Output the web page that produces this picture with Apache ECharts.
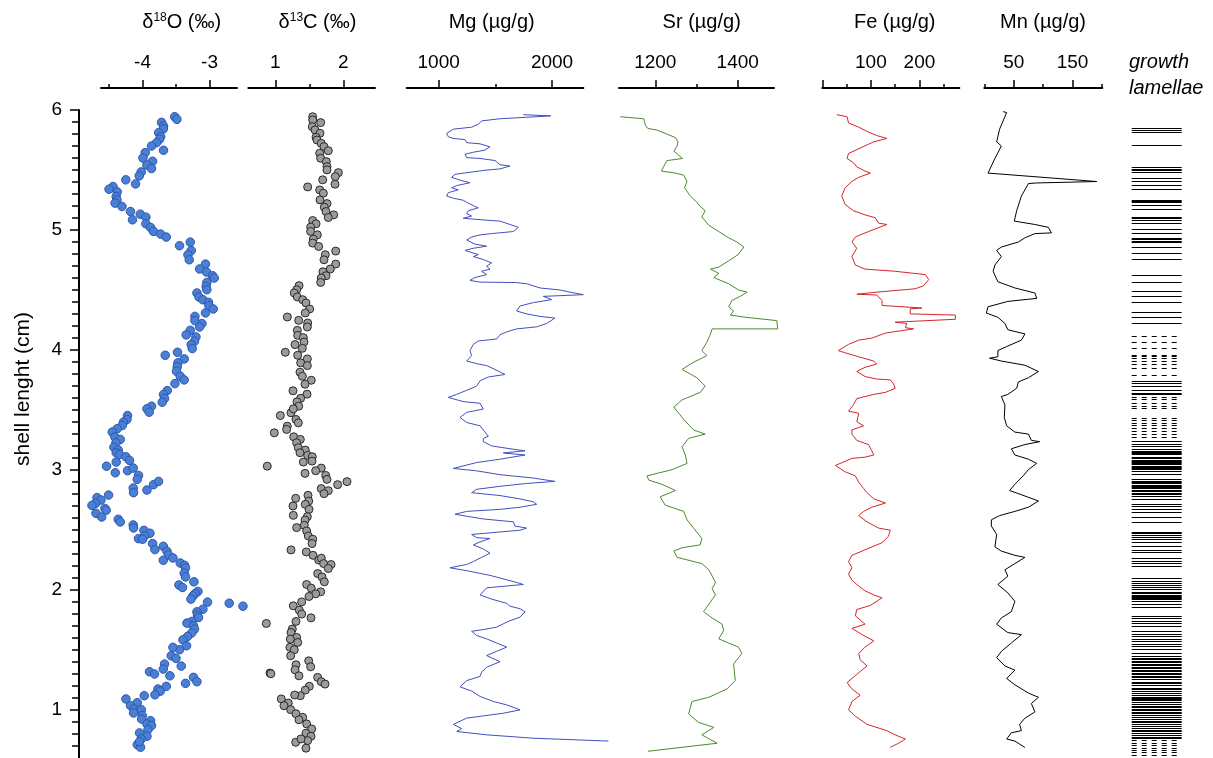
<!DOCTYPE html>
<html>
<head>
<meta charset="utf-8">
<script src="https://cdn.jsdelivr.net/npm/echarts@6/dist/echarts.min.js"></script>
<style>html,body{margin:0;padding:0;background:#fff}#c{width:1213px;height:758px}</style>
</head>
<body>
<div id="c"></div>
<script>
// ---- data: [value, shell length (cm)] ----
const d18O = [[-3.52,5.944],[-3.487,5.922],[-3.716,5.897],[-3.687,5.867],[-3.69,5.842],[-3.76,5.811],[-3.73,5.778],[-3.746,5.756],[-3.79,5.728],[-3.866,5.70],[-3.687,5.665],[-3.96,5.645],[-3.994,5.60],[-3.85,5.573],[-3.934,5.542],[-3.866,5.512],[-4.02,5.484],[-4.05,5.451],[-4.25,5.418],[-4.104,5.384],[-4.44,5.362],[-4.50,5.34],[-4.378,5.318],[-4.393,5.279],[-4.382,5.251],[-4.41,5.224],[-4.307,5.196],[-4.18,5.154],[-4.15,5.085],[-4.034,5.132],[-3.95,5.107],[-3.95,5.052],[-3.88,5.021],[-3.836,4.988],[-3.73,4.966],[-3.646,4.941],[-3.448,4.869],[-3.288,4.899],[-3.273,4.829],[-3.322,4.794],[-3.303,4.752],[-3.06,4.716],[-3.149,4.675],[-3.045,4.65],[-2.955,4.619],[-2.93,4.60],[-3.04,4.563],[-3.05,4.53],[-3.04,4.502],[-3.188,4.475],[-3.158,4.442],[-3.099,4.419],[-3.015,4.397],[-3.009,4.369],[-2.945,4.342],[-3.06,4.309],[-3.218,4.28],[-3.218,4.245],[-3.113,4.22],[-3.149,4.192],[-3.288,4.164],[-3.348,4.126],[-3.203,4.109],[-3.224,4.073],[-3.273,4.045],[-3.258,4.012],[-3.661,3.956],[-3.478,3.981],[-3.378,3.926],[-3.472,3.893],[-3.482,3.86],[-3.493,3.823],[-3.437,3.781],[-3.378,3.751],[-3.516,3.72],[-3.631,3.662],[-3.687,3.629],[-3.672,3.596],[-3.706,3.565],[-3.866,3.532],[-3.934,3.51],[-3.9,3.482],[-4.224,3.454],[-4.233,3.421],[-4.284,3.399],[-4.303,3.371],[-4.378,3.344],[-4.452,3.316],[-4.412,3.274],[-4.333,3.255],[-4.397,3.227],[-4.427,3.19],[-4.363,3.166],[-4.393,3.144],[-4.343,3.13],[-4.248,3.11],[-4.194,3.08],[-4.393,3.066],[-4.537,3.032],[-4.407,2.977],[-4.224,2.994],[-4.139,3.016],[-4.06,2.955],[-4.079,2.922],[-4.139,2.85],[-4.134,2.811],[-3.934,2.833],[-3.836,2.878],[-3.761,2.905],[-4.507,2.791],[-4.68,2.77],[-4.621,2.75],[-4.70,2.722],[-4.755,2.705],[-4.561,2.68],[-4.542,2.664],[-4.695,2.639],[-4.61,2.608],[-4.363,2.589],[-4.333,2.567],[-4.139,2.542],[-4.134,2.517],[-3.979,2.497],[-3.89,2.473],[-3.97,2.45],[-4.06,2.428],[-4.0,2.423],[-3.85,2.387],[-3.815,2.337],[-3.69,2.364],[-3.636,2.323],[-3.612,2.292],[-3.546,2.267],[-3.69,2.248],[-3.437,2.225],[-3.373,2.206],[-3.358,2.184],[-3.378,2.14],[-3.358,2.109],[-3.457,2.042],[-3.403,2.021],[-3.233,2.068],[-3.173,1.988],[-3.213,1.971],[-3.248,1.951],[-3.278,1.924],[-3.03,1.899],[-2.706,1.89],[-2.501,1.865],[-3.099,1.84],[-3.188,1.818],[-3.179,1.79],[-3.164,1.771],[-3.263,1.738],[-3.337,1.724],[-3.239,1.701],[-3.224,1.674],[-3.269,1.641],[-3.328,1.613],[-3.397,1.585],[-3.343,1.535],[-3.448,1.502],[-3.546,1.522],[-3.572,1.452],[-3.501,1.43],[-3.672,1.383],[-3.69,1.341],[-3.422,1.366],[-3.896,1.319],[-3.821,1.3],[-3.591,1.285],[-3.239,1.272],[-3.188,1.236],[-3.358,1.222],[-3.646,1.197],[-3.77,1.175],[-3.736,1.156],[-3.815,1.127],[-3.975,1.119],[-4.248,1.092],[-4.079,1.061],[-4.179,1.036],[-4.128,1.008],[-4.019,1.003],[-4.134,0.975],[-4.004,0.953],[-4.015,0.925],[-3.88,0.911],[-3.934,0.884],[-3.866,0.87],[-3.919,0.836],[-4.045,0.809],[-3.934,0.781],[-4.019,0.759],[-4.079,0.711],[-4.03,0.69],[-4.045,0.736]];

const d13C = [[1.55,5.944],[1.55,5.917],[1.667,5.895],[1.544,5.861],[1.584,5.834],[1.657,5.806],[1.599,5.773],[1.613,5.75],[1.676,5.722],[1.716,5.695],[1.779,5.661],[1.653,5.64],[1.667,5.598],[1.75,5.57],[1.76,5.528],[1.76,5.501],[1.927,5.478],[1.882,5.445],[1.697,5.418],[1.878,5.382],[1.476,5.359],[1.653,5.334],[1.706,5.307],[1.657,5.251],[1.76,5.22],[1.721,5.19],[1.746,5.154],[1.859,5.126],[1.779,5.104],[1.55,5.079],[1.599,5.052],[1.52,5.024],[1.52,4.988],[1.618,4.96],[1.559,4.924],[1.55,4.891],[1.638,4.863],[1.888,4.824],[1.735,4.794],[1.716,4.752],[1.888,4.716],[1.809,4.675],[1.701,4.652],[1.746,4.619],[1.676,4.60],[1.667,4.563],[1.349,4.536],[1.314,4.502],[1.279,4.475],[1.324,4.442],[1.403,4.419],[1.451,4.392],[1.505,4.342],[1.441,4.309],[1.177,4.275],[1.344,4.247],[1.476,4.225],[1.471,4.192],[1.324,4.164],[1.329,4.122],[1.412,4.103],[1.422,4.067],[1.29,4.045],[1.397,4.014],[1.147,3.981],[1.329,3.956],[1.471,3.926],[1.373,3.893],[1.471,3.87],[1.363,3.815],[1.397,3.781],[1.529,3.748],[1.437,3.715],[1.26,3.66],[1.466,3.632],[1.373,3.598],[1.319,3.568],[1.344,3.532],[1.231,3.477],[1.074,3.454],[1.265,3.51],[1.304,3.421],[1.338,3.393],[1.176,3.365],[1.167,3.338],[0.985,3.31],[1.27,3.277],[1.368,3.255],[1.314,3.227],[1.338,3.186],[1.441,3.166],[1.363,3.144],[1.476,3.122],[1.544,3.11],[1.54,3.074],[1.412,3.066],[0.882,3.032],[1.676,3.016],[1.594,2.994],[1.437,2.972],[1.741,2.955],[1.76,2.922],[1.917,2.878],[2.054,2.903],[1.676,2.845],[1.779,2.828],[1.716,2.803],[1.481,2.789],[1.3,2.764],[1.491,2.741],[1.26,2.7],[1.441,2.714],[1.496,2.672],[1.265,2.622],[1.471,2.611],[1.437,2.583],[1.314,2.52],[1.426,2.539],[1.461,2.492],[1.485,2.45],[1.55,2.423],[1.54,2.387],[1.231,2.334],[1.456,2.317],[1.554,2.289],[1.638,2.25],[1.676,2.265],[1.711,2.22],[1.819,2.212],[1.779,2.179],[1.623,2.137],[1.687,2.109],[1.721,2.068],[1.461,2.046],[1.529,2.015],[1.667,1.985],[1.594,1.968],[1.496,1.946],[1.388,1.901],[1.265,1.868],[1.353,1.832],[1.525,1.768],[1.388,1.799],[0.868,1.721],[1.304,1.738],[1.25,1.674],[1.231,1.646],[1.314,1.605],[1.221,1.591],[1.329,1.563],[1.216,1.522],[1.279,1.502],[1.226,1.452],[1.491,1.41],[1.304,1.377],[1.52,1.36],[1.29,1.335],[1.348,1.285],[0.922,1.308],[0.935,1.302],[1.623,1.272],[1.676,1.236],[1.731,1.216],[1.5,1.197],[1.441,1.166],[1.368,1.119],[1.285,1.125],[1.088,1.092],[1.191,1.058],[1.128,1.036],[1.226,1.003],[1.304,0.969],[1.403,0.939],[1.348,0.919],[1.461,0.884],[1.535,0.842],[1.451,0.806],[1.525,0.781],[1.476,0.745],[1.3,0.731],[1.378,0.759],[1.451,0.682]];

const mg = [[1747,5.961],[1988,5.951],[1541,5.927],[1379,5.909],[1350,5.881],[1291,5.857],[1129,5.84],[1070,5.805],[1085,5.777],[1129,5.763],[1232,5.753],[1247,5.728],[1365,5.718],[1453,5.693],[1409,5.666],[1306,5.648],[1232,5.631],[1247,5.603],[1365,5.596],[1497,5.579],[1541,5.544],[1629,5.533],[1541,5.509],[1409,5.498],[1306,5.485],[1144,5.464],[1114,5.439],[1188,5.415],[1276,5.394],[1159,5.37],[1114,5.352],[1173,5.335],[1085,5.311],[1070,5.283],[1129,5.265],[1217,5.248],[1247,5.231],[1320,5.196],[1350,5.185],[1262,5.161],[1247,5.137],[1291,5.116],[1217,5.098],[1394,5.084],[1541,5.074],[1629,5.046],[1703,5.022],[1659,4.987],[1467,4.97],[1365,4.959],[1291,4.942],[1247,4.917],[1320,4.882],[1423,4.865],[1306,4.848],[1232,4.83],[1350,4.795],[1306,4.778],[1394,4.754],[1467,4.726],[1423,4.698],[1453,4.674],[1379,4.656],[1423,4.628],[1320,4.604],[1276,4.58],[1365,4.566],[1688,4.562],[1776,4.552],[1894,4.517],[2071,4.5],[2159,4.482],[2276,4.461],[1923,4.447],[1997,4.42],[1835,4.395],[1718,4.367],[1688,4.325],[1776,4.301],[1894,4.28],[2026,4.266],[1953,4.221],[1865,4.193],[1688,4.176],[1600,4.151],[1541,4.127],[1512,4.092],[1350,4.075],[1306,4.047],[1276,3.995],[1291,3.953],[1247,3.908],[1350,3.883],[1423,3.87],[1497,3.838],[1585,3.796],[1438,3.775],[1365,3.744],[1335,3.699],[1247,3.664],[1159,3.63],[1085,3.605],[1217,3.57],[1365,3.556],[1394,3.508],[1247,3.48],[1188,3.438],[1247,3.396],[1365,3.368],[1409,3.316],[1438,3.281],[1394,3.264],[1394,3.236],[1467,3.201],[1629,3.177],[1762,3.16],[1570,3.142],[1762,3.125],[1541,3.09],[1335,3.062],[1129,3.013],[1335,2.993],[1541,2.961],[1835,2.933],[2026,2.905],[1776,2.888],[1541,2.864],[1335,2.839],[1291,2.811],[1541,2.787],[1718,2.759],[1835,2.735],[1865,2.714],[1718,2.69],[1541,2.672],[1247,2.655],[1144,2.631],[1394,2.592],[1659,2.568],[1673,2.533],[1776,2.516],[1718,2.498],[1512,2.481],[1291,2.463],[1335,2.436],[1453,2.429],[1365,2.401],[1306,2.376],[1394,2.342],[1453,2.307],[1379,2.272],[1306,2.237],[1247,2.213],[1100,2.185],[1247,2.161],[1453,2.122],[1688,2.063],[1747,2.046],[1423,2.018],[1365,1.959],[1467,1.924],[1600,1.889],[1629,1.865],[1718,1.844],[1762,1.819],[1718,1.774],[1615,1.739],[1512,1.691],[1394,1.67],[1291,1.656],[1335,1.621],[1423,1.593],[1512,1.558],[1600,1.524],[1512,1.489],[1423,1.454],[1541,1.402],[1423,1.357],[1379,1.315],[1365,1.28],[1247,1.245],[1188,1.193],[1291,1.158],[1365,1.113],[1482,1.071],[1600,1.043],[1718,1.001],[1570,0.973],[1379,0.949],[1247,0.932],[1129,0.88],[1203,0.845],[1159,0.821],[1423,0.793],[1835,0.765],[2497,0.741]];

const sr = [[1115,5.944],[1172,5.927],[1176,5.874],[1182,5.846],[1204,5.833],[1224,5.805],[1249,5.77],[1255,5.735],[1253,5.7],[1245,5.658],[1266,5.596],[1228,5.578],[1220,5.526],[1215,5.491],[1249,5.474],[1269,5.457],[1277,5.405],[1271,5.352],[1285,5.283],[1301,5.231],[1309,5.196],[1321,5.161],[1313,5.109],[1330,5.039],[1354,4.987],[1378,4.935],[1398,4.9],[1415,4.858],[1401,4.795],[1378,4.743],[1354,4.691],[1334,4.674],[1354,4.639],[1342,4.604],[1378,4.552],[1402,4.5],[1423,4.482],[1406,4.447],[1386,4.413],[1378,4.36],[1390,4.325],[1382,4.291],[1418,4.273],[1495,4.245],[1497,4.176],[1338,4.176],[1334,4.134],[1325,4.064],[1313,3.995],[1325,3.953],[1289,3.891],[1265,3.838],[1301,3.769],[1321,3.699],[1309,3.647],[1265,3.584],[1245,3.525],[1269,3.421],[1293,3.334],[1321,3.299],[1281,3.264],[1265,3.194],[1273,3.125],[1277,3.055],[1241,3.003],[1180,2.951],[1184,2.916],[1216,2.881],[1249,2.829],[1212,2.777],[1224,2.707],[1269,2.655],[1277,2.585],[1313,2.429],[1309,2.376],[1265,2.352],[1245,2.324],[1253,2.272],[1313,2.22],[1330,2.168],[1346,2.063],[1338,2.011],[1346,1.959],[1317,1.82],[1338,1.767],[1362,1.715],[1366,1.663],[1354,1.593],[1378,1.558],[1402,1.524],[1410,1.471],[1390,1.384],[1394,1.245],[1374,1.176],[1330,1.106],[1289,1.071],[1281,0.967],[1305,0.897],[1342,0.855],[1313,0.793],[1350,0.723],[1182,0.656]];

const fe = [[30,5.961],[51,5.944],[54,5.892],[75,5.857],[92,5.822],[112,5.787],[133,5.763],[106,5.735],[78,5.683],[54,5.638],[51,5.596],[64,5.561],[71,5.526],[88,5.491],[99,5.474],[75,5.439],[61,5.405],[47,5.352],[40,5.283],[47,5.213],[64,5.161],[88,5.126],[109,5.102],[116,5.057],[133,5.046],[95,4.987],[68,4.942],[61,4.9],[71,4.848],[61,4.778],[68,4.708],[88,4.674],[150,4.656],[212,4.628],[219,4.587],[208,4.534],[191,4.51],[112,4.482],[71,4.465],[112,4.458],[123,4.412],[123,4.371],[205,4.35],[181,4.343],[181,4.301],[274,4.291],[274,4.256],[150,4.232],[174,4.221],[171,4.186],[188,4.176],[130,4.141],[102,4.099],[75,4.082],[54,4.047],[33,3.995],[47,3.977],[75,3.943],[106,3.908],[112,3.883],[88,3.856],[71,3.821],[88,3.779],[112,3.758],[140,3.751],[147,3.716],[150,3.681],[130,3.647],[106,3.63],[71,3.595],[64,3.543],[54,3.49],[75,3.473],[71,3.403],[85,3.368],[61,3.334],[61,3.299],[71,3.247],[95,3.212],[102,3.16],[106,3.125],[88,3.107],[61,3.097],[27,3.038],[47,2.985],[68,2.951],[75,2.898],[85,2.846],[92,2.811],[106,2.759],[130,2.725],[102,2.69],[85,2.655],[75,2.62],[92,2.568],[116,2.516],[140,2.498],[136,2.446],[123,2.394],[92,2.342],[61,2.289],[54,2.237],[61,2.185],[54,2.133],[61,2.081],[71,2.046],[88,1.993],[106,1.959],[123,1.934],[99,1.872],[71,1.837],[68,1.785],[78,1.75],[88,1.715],[61,1.68],[82,1.628],[106,1.576],[88,1.524],[75,1.471],[78,1.419],[92,1.367],[71,1.297],[51,1.228],[61,1.176],[78,1.123],[61,1.071],[54,1.001],[68,0.949],[92,0.88],[133,0.828],[150,0.793],[171,0.758],[157,0.723],[140,0.689]];

const mn = [[32,5.986],[38,5.979],[26,5.84],[21,5.735],[29,5.7],[18,5.596],[6.3,5.474],[52,5.457],[191,5.404],[89,5.392],[75,5.387],[63,5.283],[55,5.161],[51,5.074],[86,5.046],[109,5.022],[114,4.976],[86,4.97],[69,4.935],[58,4.9],[29,4.858],[21,4.83],[29,4.778],[18,4.708],[15,4.656],[23,4.569],[52,4.517],[86,4.475],[89,4.43],[40,4.405],[6.3,4.36],[3.4,4.308],[23,4.273],[35,4.221],[40,4.169],[69,4.134],[63,4.082],[38,4.029],[23,3.995],[23,3.943],[9,3.932],[29,3.908],[69,3.873],[92,3.821],[75,3.769],[58,3.734],[55,3.681],[40,3.63],[29,3.612],[35,3.542],[34,3.438],[38,3.368],[52,3.316],[75,3.299],[80,3.247],[94,3.236],[69,3.212],[46,3.177],[52,3.125],[75,3.09],[89,3.055],[75,3.003],[66,2.951],[52,2.881],[43,2.829],[63,2.794],[92,2.742],[75,2.69],[52,2.655],[26,2.62],[12,2.585],[12,2.533],[21,2.463],[18,2.359],[29,2.324],[52,2.289],[69,2.272],[52,2.22],[35,2.168],[40,2.115],[23,2.046],[40,1.976],[52,1.906],[46,1.82],[29,1.767],[21,1.715],[40,1.645],[63,1.628],[46,1.558],[29,1.489],[21,1.436],[35,1.367],[52,1.332],[38,1.263],[52,1.21],[75,1.141],[92,1.106],[80,1.054],[86,0.984],[69,0.932],[60,0.88],[63,0.828],[46,0.81],[38,0.758],[52,0.741],[69,0.688]];

const lamellaeSolid = [5.848,5.834,5.815,5.71,5.52,5.51,5.50,5.478,5.43,5.41,5.37,5.34,5.25,5.24,5.23,5.207,5.176,5.11,5.10,5.08,5.06,5.007,4.97,4.93,4.92,4.91,4.90,4.857,4.81,4.76,4.62,4.567,4.49,4.447,4.40,4.317,4.275,4.22,3.74,3.72,3.70,3.665,3.643,3.63,3.24,3.213,3.194,3.177,3.157,3.15,3.14,3.13,3.11,3.094,3.085,3.075,3.065,3.055,3.045,3.035,3.025,3.015,3.005,2.99,2.963,2.92,2.91,2.90,2.89,2.875,2.865,2.855,2.845,2.835,2.82,2.81,2.795,2.78,2.755,2.714,2.695,2.672,2.645,2.603,2.567,2.48,2.47,2.455,2.44,2.425,2.395,2.367,2.334,2.312,2.262,2.242,2.223,2.196,2.096,2.077,2.058,2.04,2.02,2.007,1.985,1.974,1.958,1.95,1.94,1.933,1.925,1.903,1.884,1.856,1.785,1.763,1.743,1.724,1.702,1.655,1.633,1.614,1.592,1.572,1.55,1.53,1.508,1.474,1.445,1.435,1.42,1.41,1.40,1.385,1.37,1.36,1.35,1.335,1.32,1.31,1.30,1.285,1.27,1.258,1.23,1.222,1.21,1.18,1.17,1.155,1.14,1.125,1.11,1.10,1.09,1.08,1.065,1.05,1.035,1.02,1.005,0.995,0.985,0.97,0.955,0.94,0.925,0.91,0.895,0.88,0.865,0.85,0.835,0.82,0.81,0.79,0.775,0.764];
const lamellaeDashed = [4.114,4.067,4.017,3.96,3.95,3.93,3.906,3.885,3.85,3.787,3.607,3.593,3.554,3.53,3.515,3.435,3.415,3.393,3.37,3.35,3.32,3.30,3.27,0.745,0.725,0.705,0.685,0.665,0.645,0.625];

// axis tick values
const ticksO = {major:[-4,-3], minor:[-4.5,-3.5], labels:[-4,-3]};
const ticksC = {major:[1,2], minor:[1.5], labels:[1,2]};
const ticksMg = {major:[1000,2000], minor:[1500], labels:[1000,2000]};
const ticksSr = {major:[1200,1400], minor:[1300], labels:[1200,1400]};
const ticksFe = {major:[0,100,200], minor:[50,150,250], labels:[100,200]};
const ticksMn = {major:[50,150], minor:[0,100,200], labels:[50,150]};
const lengthLabels = [1, 2, 3, 4, 5, 6];
const lengthMinor = [];
for (let k = 7; k < 60; k++) if (k % 10 !== 0) lengthMinor.push(k / 10);

// ---- layout ----
const FONT = '"Liberation Sans", Arial, Helvetica, sans-serif';
const TOP = 110, YMIN = 0.6, YMAX = 6, H = (YMAX - YMIN) * 120;
const PAD = 40; // extra px of room for marks drawn beyond the axis ends
const panels = [
  {left:101, right:237, min:-4.62, max:-2.59, t:ticksO},
  {left:248.3, right:375, min:0.603, max:2.466, t:ticksC},
  {left:406.7, right:583.3, min:718, max:2276, t:ticksMg},
  {left:619, right:774, min:1112, max:1488, t:ticksSr},
  {left:822.3, right:959.3, min:0, max:282, t:ticksFe},
  {left:984.3, right:1102.3, min:0, max:200.5, t:ticksMn}
];

const grid = [], xAxis = [], yAxis = [];
const hiddenY = gi => ({gridIndex:gi, type:'value', min:YMIN, max:YMAX, show:false, splitLine:{show:false}});
panels.forEach((p, i) => {
  const g = 3 * i, w = p.right - p.left, upp = (p.max - p.min) / w;
  grid.push({left:p.left, width:w, top:TOP, height:H});
  grid.push({left:p.left, width:w, top:TOP, height:H});
  grid.push({left:p.left - PAD, width:w + 2 * PAD, top:TOP, height:H});
  xAxis.push({
    gridIndex:g, type:'value', position:'top', offset:22, min:p.min, max:p.max,
    axisLine:{show:true, onZero:false, lineStyle:{color:'#000', width:2}},
    axisTick:{show:true, customValues:p.t.major, length:8, lineStyle:{color:'#000', width:1.5}},
    axisLabel:{show:true, customValues:p.t.labels, margin:16, fontSize:19, color:'#000', fontFamily:FONT,
               formatter: v => String(v)},
    splitLine:{show:false}
  });
  xAxis.push({
    gridIndex:g + 1, type:'value', position:'top', offset:22, min:p.min, max:p.max,
    axisLine:{show:false}, axisLabel:{show:false},
    axisTick:{show:true, customValues:p.t.minor, length:4, lineStyle:{color:'#000', width:1.5}},
    splitLine:{show:false}
  });
  xAxis.push({gridIndex:g + 2, type:'value', min:p.min - PAD * upp, max:p.max + PAD * upp,
              show:false, splitLine:{show:false}});
  if (i === 0) {
    yAxis.push({
      gridIndex:0, type:'value', min:YMIN, max:YMAX, position:'left', offset:22,
      axisLine:{show:true, onZero:false, lineStyle:{color:'#000', width:2}},
      axisTick:{show:true, customValues:lengthLabels, length:9, lineStyle:{color:'#000', width:1.5}},
      axisLabel:{customValues:lengthLabels, margin:17, fontSize:19, color:'#000', fontFamily:FONT},
      splitLine:{show:false}
    });
    yAxis.push({
      gridIndex:1, type:'value', min:YMIN, max:YMAX, position:'left', offset:22,
      axisLine:{show:false}, axisLabel:{show:false},
      axisTick:{show:true, customValues:lengthMinor, length:7, lineStyle:{color:'#000', width:1.5}},
      splitLine:{show:false}
    });
  } else {
    yAxis.push(hiddenY(g));
    yAxis.push(hiddenY(g + 1));
  }
  yAxis.push(hiddenY(g + 2));
});
// lamellae panel
grid.push({left:1131.7, width:50, top:TOP, height:H});
xAxis.push({gridIndex:18, type:'value', min:0, max:1, show:false, splitLine:{show:false}});
yAxis.push(hiddenY(18));

const lineSeries = (data, gi, color) => ({
  type:'line', data:data.map(d => [d[0], d[1]]), xAxisIndex:gi, yAxisIndex:gi,
  showSymbol:false, symbol:'none', clip:false, smooth:false,
  lineStyle:{color:color, width:1}, silent:true
});

const series = [
  {type:'scatter', data:d18O, xAxisIndex:2, yAxisIndex:2, symbolSize:8.5, clip:false,
   itemStyle:{color:'#4a7fd6', borderColor:'#2d57ad', borderWidth:1, opacity:1}},
  {type:'scatter', data:d13C, xAxisIndex:5, yAxisIndex:5, symbolSize:8, clip:false,
   itemStyle:{color:'#9b9b9b', borderColor:'#2a2a2a', borderWidth:1, opacity:1}},
  lineSeries(mg, 8, '#4150bd'),
  lineSeries(sr, 11, '#4c8a2e'),
  lineSeries(fe, 14, '#d3262b'),
  lineSeries(mn, 17, '#000000'),
  {type:'lines', coordinateSystem:'cartesian2d', xAxisIndex:18, yAxisIndex:18, silent:true,
   data:lamellaeSolid.map(v => ({coords:[[0, v], [1, v]]})),
   lineStyle:{color:'#000', width:1, opacity:1, type:'solid'}},
  {type:'lines', coordinateSystem:'cartesian2d', xAxisIndex:18, yAxisIndex:18, silent:true,
   data:lamellaeDashed.map(v => ({coords:[[0, v], [1, v]]})),
   lineStyle:{color:'#000', width:1, opacity:1, type:[5, 5]}}
];

const titleStyle = (text, rich) => ({text, fontSize:20, fontFamily:FONT, fill:'#000', align:'center', verticalAlign:'middle', rich});
const supRich = {sup:{fontSize:12, fontFamily:FONT, verticalAlign:'top', fill:'#000'}, n:{fontSize:20, fontFamily:FONT, fill:'#000'}};
const graphic = [
  {type:'text', x:181.7, y:22, style:titleStyle('{n|δ}{sup|18}{n|O (‰)}', supRich)},
  {type:'text', x:317.5, y:22, style:titleStyle('{n|δ}{sup|13}{n|C (‰)}', supRich)},
  {type:'text', x:491.7, y:22, style:titleStyle('Mg (µg/g)')},
  {type:'text', x:701.7, y:22, style:titleStyle('Sr (µg/g)')},
  {type:'text', x:894.7, y:22, style:titleStyle('Fe (µg/g)')},
  {type:'text', x:1043, y:22, style:titleStyle('Mn (µg/g)')},
  {type:'text', x:1129, y:62, style:{text:'growth', fontSize:20, fontStyle:'italic', fontFamily:FONT, fill:'#000', align:'left', verticalAlign:'middle'}},
  {type:'text', x:1129, y:88, style:{text:'lamellae', fontSize:20, fontStyle:'italic', fontFamily:FONT, fill:'#000', align:'left', verticalAlign:'middle'}},
  {type:'text', x:23, y:389, rotation:Math.PI/2, style:{text:'shell lenght (cm)', fontSize:21, fontFamily:FONT, fill:'#000', align:'center', verticalAlign:'middle'}}
];

const chart = echarts.init(document.getElementById('c'), null, {renderer:'canvas'});
chart.setOption({animation:false, backgroundColor:'#fff', grid, xAxis, yAxis, series, graphic});
</script>
</body>
</html>
